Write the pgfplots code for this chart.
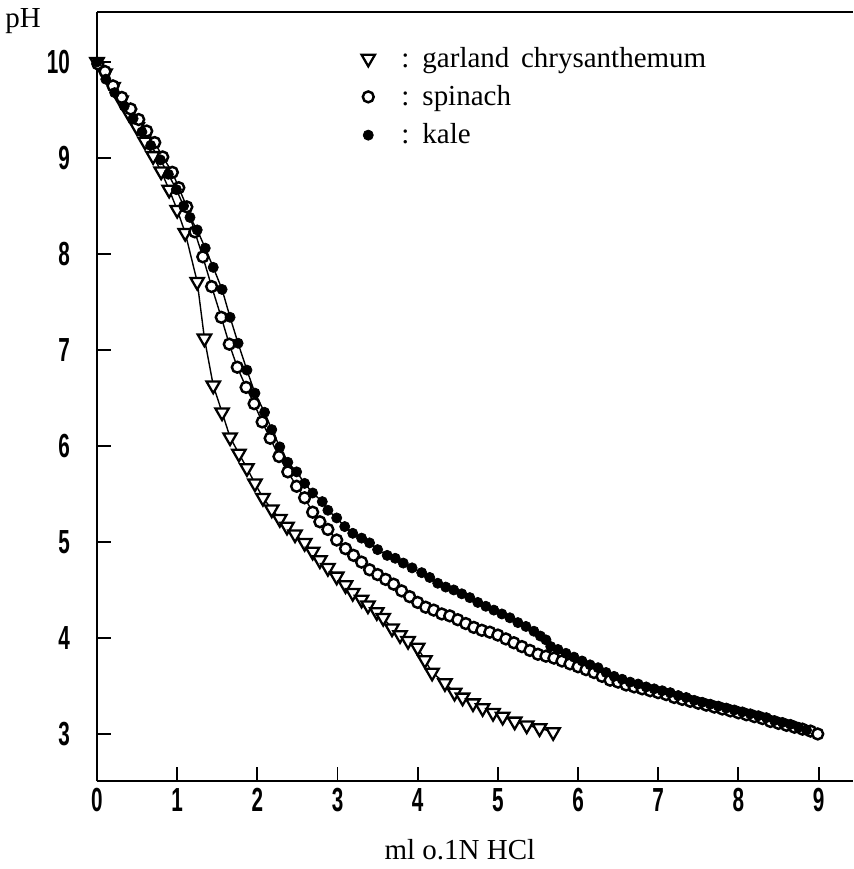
\documentclass[border=0pt]{standalone}
\usepackage{pgfplots}
\pgfplotsset{compat=1.18}
\usepackage{fontspec}
\setmainfont{Liberation Serif}
\setsansfont{Liberation Sans}

% titration curves, values
\begin{document}
\begin{tikzpicture}
\begin{axis}[
    scale only axis,
    width=15.12cm, height=15.38cm,
    xmin=0, xmax=9.43,
    ymin=2.51, ymax=10.52,
    axis lines=left,
    axis line style={-, line width=1.2pt},
    tick style={line width=1.1pt, black},
    tick align=inside,
    major tick length=0.28cm,
    xtick={0,...,9}, ytick={3,...,10},
    ticklabel style={font=\sffamily\bfseries\fontsize{19}{19}\selectfont},
    xticklabel={\scalebox{0.62}[1]{\pgfmathprintnumber[assume math mode=true]{\tick}}},
    yticklabel={\scalebox{0.62}[1]{\pgfmathprintnumber[assume math mode=true]{\tick}}},
    yticklabel style={xshift=-0.42cm},
    xticklabel style={yshift=-0.02cm},
    xlabel={ml o.1N HCl},
    ylabel={pH},
    every axis x label/.style={at={(rel axis cs:0.48,0)}, anchor=center, yshift=-1.38cm, font=\fontsize{16.5}{16.5}\selectfont},
    every axis y label/.style={at={(rel axis cs:0,1)}, anchor=center, xshift=-1.48cm, yshift=-0.18cm, font=\fontsize{16.5}{16.5}\selectfont},
    legend style={draw=none, fill=none, at={(axis cs:3.23,10.23)}, anchor=north west,
        font=\fontsize{16.5}{16.5}\selectfont, row sep=0.17cm,
        /tikz/every odd column/.append style={column sep=0.46cm}},
    legend cell align=left,
]
% garland chrysanthemum
\addplot[black, line width=0.8pt, forget plot] coordinates {
(0,10.0)(0.1,9.88)(0.2,9.74)(0.3,9.60)(0.4,9.46)(0.5,9.32)(0.6,9.17)(0.7,9.02)(0.8,8.86)(0.9,8.67)
(1.0,8.46)(1.1,8.22)(1.25,7.71)(1.34,7.12)(1.45,6.63)(1.56,6.35)(1.66,6.09)(1.77,5.92)(1.87,5.77)(1.97,5.61)
(2.07,5.46)(2.18,5.34)(2.28,5.24)(2.37,5.16)(2.47,5.08)(2.59,4.99)(2.69,4.90)(2.78,4.81)(2.88,4.73)(2.99,4.64)
(3.10,4.55)(3.19,4.47)(3.30,4.40)(3.38,4.34)(3.49,4.27)(3.57,4.21)(3.68,4.10)(3.78,4.03)(3.88,3.97)(4.00,3.90)
(4.09,3.77)(4.18,3.64)(4.34,3.53)(4.46,3.43)(4.56,3.38)(4.69,3.32)(4.81,3.27)(4.94,3.22)(5.06,3.18)(5.21,3.13)
(5.36,3.09)(5.52,3.06)(5.69,3.02)
};
\addplot[only marks, mark=triangle*, mark size=4.4pt,
    mark options={rotate=180, fill=white, draw=black, line width=1.3pt}] coordinates {
(0,10.0)(0.1,9.88)(0.2,9.74)(0.3,9.60)(0.4,9.46)(0.5,9.32)(0.6,9.17)(0.7,9.02)(0.8,8.86)(0.9,8.67)
(1.0,8.46)(1.1,8.22)(1.25,7.71)(1.34,7.12)(1.45,6.63)(1.56,6.35)(1.66,6.09)(1.77,5.92)(1.87,5.77)(1.97,5.61)
(2.07,5.46)(2.18,5.34)(2.28,5.24)(2.37,5.16)(2.47,5.08)(2.59,4.99)(2.69,4.90)(2.78,4.81)(2.88,4.73)(2.99,4.64)
(3.10,4.55)(3.19,4.47)(3.30,4.40)(3.38,4.34)(3.49,4.27)(3.57,4.21)(3.68,4.10)(3.78,4.03)(3.88,3.97)(4.00,3.90)
(4.09,3.77)(4.18,3.64)(4.34,3.53)(4.46,3.43)(4.56,3.38)(4.69,3.32)(4.81,3.27)(4.94,3.22)(5.06,3.18)(5.21,3.13)
(5.36,3.09)(5.52,3.06)(5.69,3.02)
};
\addlegendentry{\makebox[0.42cm][l]{:}garland\hspace{0.4em}chrysanthemum}
% spinach
\addplot[black, line width=0.8pt, forget plot] coordinates {
(0.01,9.98)(0.10,9.90)(0.20,9.75)(0.31,9.63)(0.42,9.51)(0.52,9.40)(0.62,9.28)(0.72,9.16)(0.82,9.01)(0.94,8.85)
(1.02,8.69)(1.12,8.49)(1.22,8.23)(1.32,7.97)(1.43,7.66)(1.55,7.34)(1.65,7.06)(1.75,6.82)(1.86,6.61)(1.96,6.44)
(2.06,6.25)(2.16,6.08)(2.27,5.89)(2.38,5.73)(2.49,5.58)(2.59,5.46)(2.69,5.31)(2.78,5.21)(2.88,5.13)(2.99,5.02)
(3.1,4.93)(3.2,4.86)(3.3,4.79)(3.4,4.71)(3.5,4.66)(3.6,4.61)(3.7,4.56)(3.8,4.49)(3.9,4.43)(4.0,4.37)
(4.1,4.32)(4.2,4.29)(4.3,4.25)(4.4,4.23)(4.5,4.19)(4.6,4.15)(4.7,4.11)(4.8,4.08)(4.9,4.06)(5.0,4.03)
(5.1,3.99)(5.2,3.95)(5.3,3.91)(5.4,3.87)(5.5,3.83)(5.6,3.81)(5.7,3.79)(5.8,3.76)(5.9,3.73)(6.0,3.70)
(6.1,3.67)(6.2,3.64)(6.3,3.60)(6.4,3.56)(6.5,3.54)(6.6,3.51)(6.7,3.49)(6.8,3.47)(6.9,3.45)(7.0,3.43)
(7.1,3.41)(7.2,3.38)(7.3,3.36)(7.4,3.34)(7.5,3.32)(7.6,3.30)(7.7,3.28)(7.8,3.26)(7.9,3.24)(8.0,3.22)
(8.1,3.20)(8.2,3.18)(8.3,3.16)(8.4,3.13)(8.5,3.11)(8.6,3.09)(8.7,3.07)(8.8,3.05)(8.9,3.03)(8.99,3.00)
};
\addplot[only marks, mark=*, mark size=3.1pt,
    mark options={fill=white, draw=black, line width=1.4pt}] coordinates {
(0.01,9.98)(0.10,9.90)(0.20,9.75)(0.31,9.63)(0.42,9.51)(0.52,9.40)(0.62,9.28)(0.72,9.16)(0.82,9.01)(0.94,8.85)
(1.02,8.69)(1.12,8.49)(1.22,8.23)(1.32,7.97)(1.43,7.66)(1.55,7.34)(1.65,7.06)(1.75,6.82)(1.86,6.61)(1.96,6.44)
(2.06,6.25)(2.16,6.08)(2.27,5.89)(2.38,5.73)(2.49,5.58)(2.59,5.46)(2.69,5.31)(2.78,5.21)(2.88,5.13)(2.99,5.02)
(3.1,4.93)(3.2,4.86)(3.3,4.79)(3.4,4.71)(3.5,4.66)(3.6,4.61)(3.7,4.56)(3.8,4.49)(3.9,4.43)(4.0,4.37)
(4.1,4.32)(4.2,4.29)(4.3,4.25)(4.4,4.23)(4.5,4.19)(4.6,4.15)(4.7,4.11)(4.8,4.08)(4.9,4.06)(5.0,4.03)
(5.1,3.99)(5.2,3.95)(5.3,3.91)(5.4,3.87)(5.5,3.83)(5.6,3.81)(5.7,3.79)(5.8,3.76)(5.9,3.73)(6.0,3.70)
(6.1,3.67)(6.2,3.64)(6.3,3.60)(6.4,3.56)(6.5,3.54)(6.6,3.51)(6.7,3.49)(6.8,3.47)(6.9,3.45)(7.0,3.43)
(7.1,3.41)(7.2,3.38)(7.3,3.36)(7.4,3.34)(7.5,3.32)(7.6,3.30)(7.7,3.28)(7.8,3.26)(7.9,3.24)(8.0,3.22)
(8.1,3.20)(8.2,3.18)(8.3,3.16)(8.4,3.13)(8.5,3.11)(8.6,3.09)(8.7,3.07)(8.8,3.05)(8.9,3.03)(8.99,3.00)
};
\addlegendentry{\makebox[0.42cm][l]{:}spinach}
% kale
\addplot[black, line width=0.8pt, forget plot] coordinates {
(0,10)(0.11,9.82)(0.22,9.68)(0.34,9.54)(0.45,9.41)(0.56,9.27)(0.67,9.13)(0.79,8.98)(0.89,8.83)(0.99,8.67)
(1.08,8.50)(1.16,8.38)(1.25,8.25)(1.35,8.06)(1.45,7.86)(1.56,7.63)(1.66,7.34)(1.76,7.07)(1.87,6.79)(1.97,6.55)
(2.09,6.35)(2.18,6.17)(2.28,5.99)(2.38,5.83)(2.49,5.73)(2.59,5.61)(2.69,5.51)(2.81,5.42)(2.88,5.33)(2.99,5.25)
(3.09,5.16)(3.19,5.09)(3.30,5.04)(3.40,4.99)(3.50,4.92)(3.62,4.86)(3.72,4.83)(3.82,4.78)(3.93,4.73)(4.05,4.68)
(4.15,4.63)(4.25,4.57)(4.35,4.53)(4.45,4.50)(4.55,4.46)(4.65,4.42)(4.75,4.37)(4.85,4.33)(4.95,4.29)(5.05,4.25)
(5.15,4.21)(5.25,4.16)(5.35,4.12)(5.45,4.07)(5.53,4.02)(5.60,3.98)(5.66,3.91)(5.75,3.88)(5.85,3.84)(5.95,3.80)
(6.05,3.76)(6.15,3.72)(6.25,3.69)(6.35,3.64)(6.45,3.60)(6.55,3.57)(6.65,3.54)(6.75,3.52)(6.85,3.49)(6.95,3.47)
(7.05,3.45)(7.15,3.43)(7.25,3.40)(7.35,3.38)(7.45,3.35)(7.55,3.33)(7.65,3.31)(7.75,3.29)(7.85,3.27)(7.95,3.25)
(8.05,3.23)(8.15,3.21)(8.25,3.19)(8.35,3.17)(8.45,3.14)(8.55,3.12)(8.65,3.10)(8.75,3.07)(8.85,3.04)
};
\addplot[only marks, mark=*, mark size=2.9pt, mark options={fill=black, draw=black}] coordinates {
(0,10)(0.11,9.82)(0.22,9.68)(0.34,9.54)(0.45,9.41)(0.56,9.27)(0.67,9.13)(0.79,8.98)(0.89,8.83)(0.99,8.67)
(1.08,8.50)(1.16,8.38)(1.25,8.25)(1.35,8.06)(1.45,7.86)(1.56,7.63)(1.66,7.34)(1.76,7.07)(1.87,6.79)(1.97,6.55)
(2.09,6.35)(2.18,6.17)(2.28,5.99)(2.38,5.83)(2.49,5.73)(2.59,5.61)(2.69,5.51)(2.81,5.42)(2.88,5.33)(2.99,5.25)
(3.09,5.16)(3.19,5.09)(3.30,5.04)(3.40,4.99)(3.50,4.92)(3.62,4.86)(3.72,4.83)(3.82,4.78)(3.93,4.73)(4.05,4.68)
(4.15,4.63)(4.25,4.57)(4.35,4.53)(4.45,4.50)(4.55,4.46)(4.65,4.42)(4.75,4.37)(4.85,4.33)(4.95,4.29)(5.05,4.25)
(5.15,4.21)(5.25,4.16)(5.35,4.12)(5.45,4.07)(5.53,4.02)(5.60,3.98)(5.66,3.91)(5.75,3.88)(5.85,3.84)(5.95,3.80)
(6.05,3.76)(6.15,3.72)(6.25,3.69)(6.35,3.64)(6.45,3.60)(6.55,3.57)(6.65,3.54)(6.75,3.52)(6.85,3.49)(6.95,3.47)
(7.05,3.45)(7.15,3.43)(7.25,3.40)(7.35,3.38)(7.45,3.35)(7.55,3.33)(7.65,3.31)(7.75,3.29)(7.85,3.27)(7.95,3.25)
(8.05,3.23)(8.15,3.21)(8.25,3.19)(8.35,3.17)(8.45,3.14)(8.55,3.12)(8.65,3.10)(8.75,3.07)(8.85,3.04)
};
\addlegendentry{\makebox[0.42cm][l]{:}kale}
% top frame line (no right-hand line in the original)
\draw[line width=1.2pt] (rel axis cs:0,1) -- (rel axis cs:1,1);
\end{axis}
\pgfresetboundingbox
\path[use as bounding box] (-1.94cm,-1.76cm) rectangle (15.12cm,15.62cm);
\end{tikzpicture}
\end{document}
